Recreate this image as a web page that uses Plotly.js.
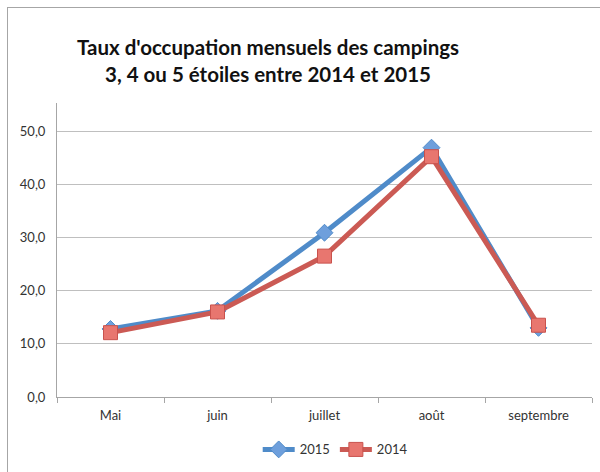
<!DOCTYPE html>
<html>
<head>
<meta charset="utf-8">
<script src="https://cdn.plot.ly/plotly-3.0.1.min.js"></script>
<style>
html,body{margin:0;padding:0;background:#fff;}
#wrap{position:relative;width:600px;height:472px;overflow:hidden;}
#chart{width:600px;height:472px;}
#frame{position:absolute;left:7px;top:7px;width:700px;height:600px;border-left:1px solid #a6a6a6;border-top:1px solid #a6a6a6;pointer-events:none;}
</style>
</head>
<body>
<div id="wrap"><div id="chart"></div><div id="frame"></div></div>
<script>
const months = ["Mai", "juin", "juillet", "août", "septembre"];
const values2015 = [12.8, 16.2, 30.9, 46.9, 13.0];
const values2014 = [12.1, 16.0, 26.5, 45.2, 13.5];
const yTickVals = [0, 10, 20, 30, 40, 50];
const yTickText = ["0,0", "10,0", "20,0", "30,0", "40,0", "50,0"];

const font = "Lato, 'Open Sans', sans-serif";

const traces = [
  {
    x: months, y: values2015, name: "2015", type: "scatter", mode: "lines+markers",
    line: {color: "#4F8BC9", width: 5},
    marker: {symbol: "diamond", size: 13, color: "#6E9FDC", line: {color: "#4F8BC9", width: 1}}
  },
  {
    x: months, y: values2014, name: "2014", type: "scatter", mode: "lines+markers",
    line: {color: "#CB5A54", width: 5},
    marker: {symbol: "square", size: 14, color: "#E8766F", line: {color: "#C9524D", width: 1}}
  }
];

const layout = {
  width: 600, height: 472,
  margin: {l: 57, r: 8, t: 103, b: 72},
  paper_bgcolor: "#fff", plot_bgcolor: "#fff",
  font: {family: font, size: 13, color: "#333"},
  title: {
    text: "<b>Taux d'occupation mensuels des campings<br>3, 4 ou 5 étoiles entre 2014 et 2015</b>",
    font: {family: font, size: 20.5, color: "#111"},
    x: 268/600, xanchor: "center", xref: "container",
    y: 1 - 55/472, yanchor: "middle", yref: "container"
  },
  xaxis: {
    type: "category", range: [-0.5, 4.5], tickson: "boundaries", ticks: "outside", ticklen: 5, tickcolor: "#a6a6a6",
    showline: true, linecolor: "#a6a6a6", linewidth: 1, showgrid: false, zeroline: false,
    ticklabelstandoff: 6,
    tickfont: {family: font, size: 13, color: "#333"}, fixedrange: true
  },
  yaxis: {
    range: [0, 55.3], tickvals: yTickVals, ticktext: yTickText,
    showline: true, linecolor: "#a6a6a6", linewidth: 1,
    showgrid: true, gridcolor: "#bfbfbf", gridwidth: 1, zeroline: false,
    ticks: "", ticklabelstandoff: 8,
    tickfont: {family: font, size: 13, color: "#333"}, fixedrange: true
  },
  showlegend: true,
  legend: {
    orientation: "h", x: 0.52, xanchor: "center", y: 1 - (453 - 103) / 297, yanchor: "middle",
    font: {family: font, size: 13, color: "#333"}, itemwidth: 32, tracegroupgap: 0
  }
};

Plotly.newPlot("chart", traces, layout, {displayModeBar: false, staticPlot: true});
</script>
</body>
</html>
